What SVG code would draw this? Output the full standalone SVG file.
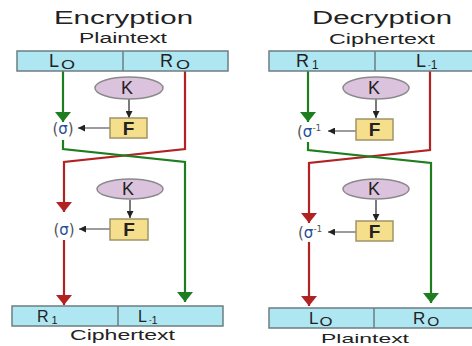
<svg xmlns="http://www.w3.org/2000/svg" width="472" height="346" viewBox="0 0 472 346">
<defs>
<style>
.t{font-family:"Liberation Sans",Arial,sans-serif;fill:#222}
.title{font-size:18px}
.sub{font-size:14px}
.lab{font-size:18px}
.kt{font-size:18px}
.ft{font-size:19px;font-weight:bold}
.box{fill:#aee6f2;stroke:#6d7d83;stroke-width:1.5}
.k{fill:#dcc3dd;stroke:#8a8a8a;stroke-width:1.5}
.f{fill:#f6df8c;stroke:#a09468;stroke-width:1.5}
.g{fill:none;stroke:#1e7d1e;stroke-width:2.2}
.r{fill:none;stroke:#b22222;stroke-width:2.2}
.b{fill:none;stroke:#333;stroke-width:1.3}
.gb{fill:none;stroke:#666;stroke-width:1.3}
.sig{font-family:"DejaVu Sans",sans-serif;font-size:15px;fill:#555}
.sg{fill:#1f4e9c}
.dv{stroke:#6d7d83;stroke-width:1.5}
</style>
<marker id="ag" viewBox="0 0 10 16" refX="10" refY="8" markerWidth="10" markerHeight="16" markerUnits="userSpaceOnUse" orient="auto"><path d="M0,0 L10,8 L0,16 Z" fill="#1e7d1e"/></marker>
<marker id="ar" viewBox="0 0 10 16" refX="10" refY="8" markerWidth="10" markerHeight="16" markerUnits="userSpaceOnUse" orient="auto"><path d="M0,0 L10,8 L0,16 Z" fill="#b22222"/></marker>
<marker id="ab" viewBox="0 0 7 7" refX="7" refY="3.5" markerWidth="8" markerHeight="7" markerUnits="userSpaceOnUse" orient="auto"><path d="M0,0 L7,3.5 L0,7 Z" fill="#222"/></marker>
</defs>
<rect width="472" height="346" fill="#fff"/>

<g id="titles">
<text class="t title" x="54" y="24" textLength="139" lengthAdjust="spacingAndGlyphs">Encryption</text>
<text class="t sub" x="79" y="43" textLength="88" lengthAdjust="spacingAndGlyphs">Plaintext</text>
<text class="t title" x="312" y="24" textLength="140" lengthAdjust="spacingAndGlyphs">Decryption</text>
<text class="t sub" x="329" y="44" textLength="106" lengthAdjust="spacingAndGlyphs">Ciphertext</text>
<text class="t sub" x="70" y="340" textLength="105" lengthAdjust="spacingAndGlyphs">Ciphertext</text>
<text class="t" font-size="13" x="321" y="343" textLength="88" lengthAdjust="spacingAndGlyphs">Plaintext</text>
</g>

<g id="connectors">
<path class="r" d="M185,71 V149 L64,162 V212" marker-end="url(#ar)"/>
<path class="r" d="M64,240 V305" marker-end="url(#ar)"/>
<path class="g" d="M63,71 V122" marker-end="url(#ag)"/>
<path class="g" d="M63,140 V149 L185,162 V302" marker-end="url(#ag)"/>
<path class="b" d="M129,99 V118" marker-end="url(#ab)"/>
<path class="gb" d="M110,128 H78" marker-end="url(#ab)"/>
<path class="b" d="M130,200 V218" marker-end="url(#ab)"/>
<path class="gb" d="M110,229 H79" marker-end="url(#ab)"/>

<path class="r" d="M430,71 V150 L309,163 V223" marker-end="url(#ar)"/>
<path class="r" d="M309,242 V306" marker-end="url(#ar)"/>
<path class="g" d="M308,71 V122" marker-end="url(#ag)"/>
<path class="g" d="M308,142 V150 L431,163 V303" marker-end="url(#ag)"/>
<path class="b" d="M376,99 V118" marker-end="url(#ab)"/>
<path class="gb" d="M356,131 H328" marker-end="url(#ab)"/>
<path class="b" d="M376,200 V221" marker-end="url(#ab)"/>
<path class="gb" d="M356,232 H328" marker-end="url(#ab)"/>
</g>

<g id="enc-top">
<rect class="box" x="17" y="51" width="211" height="20"/>
<line class="dv" x1="123" y1="51" x2="123" y2="71"/>
<text class="t lab" x="49" y="67">L<tspan font-size="12" dx="2" dy="2" textLength="14" lengthAdjust="spacingAndGlyphs">O</tspan></text>
<text class="t lab" x="160" y="67">R<tspan font-size="12" dx="3" dy="2" textLength="14" lengthAdjust="spacingAndGlyphs">O</tspan></text>
</g>
<g id="enc-k1"><ellipse class="k" cx="129" cy="88" rx="34" ry="11"/><text class="t kt" x="127" y="94" text-anchor="middle">K</text></g>
<g id="enc-f1"><rect class="f" x="110" y="118" width="37" height="20"/><text class="t ft" x="128.5" y="135" text-anchor="middle">F</text></g>
<g id="enc-s1"><text class="sig" x="63" y="134" text-anchor="middle">(<tspan class="sg">σ</tspan>)</text></g>
<g id="enc-k2"><ellipse class="k" cx="130" cy="189" rx="33" ry="10"/><text class="t kt" x="128" y="195" text-anchor="middle">K</text></g>
<g id="enc-f2"><rect class="f" x="110" y="219" width="38" height="21"/><text class="t ft" x="129" y="236" text-anchor="middle">F</text></g>
<g id="enc-s2"><text class="sig" x="64" y="235" text-anchor="middle">(<tspan class="sg">σ</tspan>)</text></g>
<g id="enc-bottom">
<rect class="box" x="12" y="306" width="211" height="20"/>
<line class="dv" x1="118" y1="306" x2="118" y2="326"/>
<text class="t" font-size="16" x="37" y="322">R<tspan font-size="11" dx="3" dy="2">1</tspan></text>
<text class="t" font-size="16" x="138" y="322">L<tspan font-size="8" dx="2" dy="0">-</tspan><tspan font-size="11" dy="2">1</tspan></text>
</g>

<g id="dec-top">
<rect class="box" x="269" y="51" width="210" height="20"/>
<line class="dv" x1="375" y1="51" x2="375" y2="71"/>
<text class="t lab" x="296" y="67">R<tspan font-size="12" dx="3" dy="2">1</tspan></text>
<text class="t lab" x="416" y="67">L<tspan font-size="8" dx="2" dy="0">-</tspan><tspan font-size="12" dy="2">1</tspan></text>
</g>
<g id="dec-k1"><ellipse class="k" cx="376" cy="88" rx="33" ry="11"/><text class="t kt" x="374" y="94" text-anchor="middle">K</text></g>
<g id="dec-f1"><rect class="f" x="356" y="119" width="37" height="21"/><text class="t ft" x="374.5" y="136" text-anchor="middle">F</text></g>
<g id="dec-s1"><text class="sig" x="297" y="137">(<tspan class="sg">σ</tspan><tspan font-size="9" dy="-6">-1</tspan></text></g>
<g id="dec-k2"><ellipse class="k" cx="376" cy="189" rx="33" ry="10"/><text class="t kt" x="374" y="195" text-anchor="middle">K</text></g>
<g id="dec-f2"><rect class="f" x="356" y="221" width="37" height="20"/><text class="t ft" x="374.5" y="238" text-anchor="middle">F</text></g>
<g id="dec-s2"><text class="sig" x="298" y="238">(<tspan class="sg">σ</tspan><tspan font-size="9" dy="-6">-1</tspan></text></g>
<g id="dec-bottom">
<rect class="box" x="269" y="308" width="210" height="20"/>
<line class="dv" x1="374" y1="308" x2="374" y2="328"/>
<text class="t" font-size="17" x="309" y="324">L<tspan font-size="12" dx="1" dy="2" textLength="13" lengthAdjust="spacingAndGlyphs">O</tspan></text>
<text class="t" font-size="17" x="413" y="324">R<tspan font-size="12" dx="2" dy="2" textLength="12" lengthAdjust="spacingAndGlyphs">O</tspan></text>
</g>
</svg>
